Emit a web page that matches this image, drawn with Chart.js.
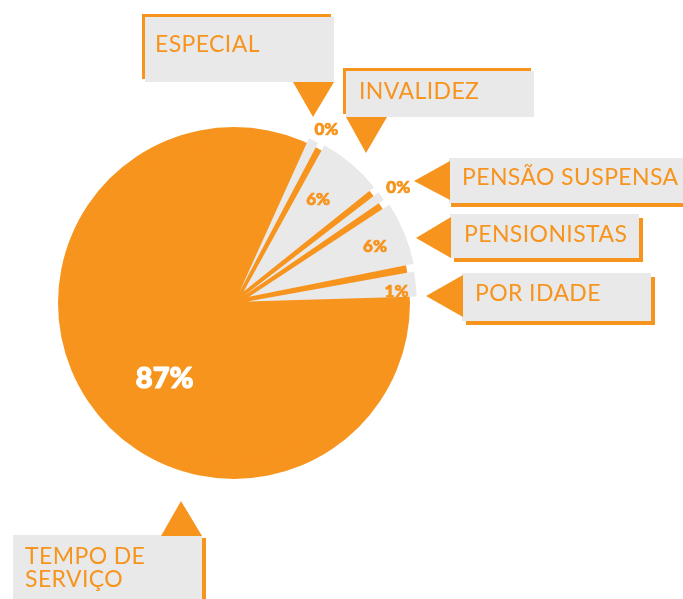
<!DOCTYPE html>
<html>
<head>
<meta charset="utf-8">
<script src="https://cdn.jsdelivr.net/npm/chart.js@4.4.1/dist/chart.umd.min.js"></script>
<style>
  html, body { margin: 0; padding: 0; background: #ffffff; }
  #wrap { position: relative; width: 683px; height: 599px; overflow: hidden; }
  canvas { display: block; }
</style>
</head>
<body>
<div id="wrap"><canvas id="c" width="683" height="599"></canvas></div>
<script>
// ---- data ----
const categories = ['ESPECIAL', 'INVALIDEZ', 'PENSÃO SUSPENSA', 'PENSIONISTAS', 'POR IDADE', 'TEMPO DE SERVIÇO'];
// visual share of each drawn slice (percent of the circle, as drawn)
const sliceShares = [1.3, 6.5, 1.2, 6.4, 2.7, 81.9];
// percentage texts printed on the chart
const percentLabels = ['0%', '6%', '0%', '6%', '1%', '87%'];
// callout box texts (lines)
const calloutTexts = [['ESPECIAL'], ['INVALIDEZ'], ['PENSÃO SUSPENSA'], ['PENSIONISTAS'], ['POR IDADE'], ['TEMPO DE', 'SERVIÇO']];

// ---- styles / layout ----
const ORANGE = '#F7941D';
const GRAY = '#E9E9E9';
const sliceColors = [GRAY, GRAY, GRAY, GRAY, GRAY, ORANGE];
const sliceOffsets = [48, 60, 50, 65, 54, 0];
const discExtra = 18;
// percent label placement: radial distance (px from centre) and angle tweak (deg)
const pctPlace = [
  { r: 197, da: 1.9, size: 17, color: ORANGE },
  { r: 134, da: -1.2, size: 17, color: ORANGE },
  { r: 201, da: 0.8, size: 17, color: ORANGE },
  { r: 152, da: 0.4, size: 17, color: ORANGE },
  { r: 163, da: 1.8, size: 17, color: ORANGE },
  { r: 102, da: -13.5, size: 29, color: '#FFFFFF' }
];
// callout layout
const callouts = [
  { box: [145, 17, 189, 65], sh: [-3, -3], tri: [[293, 82], [334, 82], [313, 117]], tx: 155, ty: [52] },
  { box: [346, 71, 188, 46], sh: [-3, -3], tri: [[346, 117], [387, 117], [366, 153]], tx: 359, ty: [99] },
  { box: [449, 158, 240, 45], sh: [2, 4], tri: [[450, 161], [450, 200], [414, 181]], tx: 462, ty: [185] },
  { box: [450, 214, 189, 44], sh: [4, 4], tri: [[451, 217], [451, 258], [416, 238]], tx: 464, ty: [242] },
  { box: [462, 273, 189, 48], sh: [4, 4], tri: [[463, 275], [463, 317], [426, 296]], tx: 475, ty: [301] },
  { box: [13, 535, 189, 80], sh: [4, 3], tri: [[161, 536], [202, 536], [181, 501]], tx: 25, ty: [564, 587] }
];

const discPlugin = {
  id: 'disc',
  beforeDatasetsDraw(chart) {
    const arc = chart.getDatasetMeta(0).data[0];
    if (!arc) return;
    const ctx = chart.ctx;
    ctx.save();
    ctx.fillStyle = ORANGE;
    ctx.beginPath();
    ctx.arc(arc.x, arc.y, arc.outerRadius + discExtra, 0, Math.PI * 2);
    ctx.fill();
    ctx.restore();
  }
};

const pctPlugin = {
  id: 'pct',
  afterDatasetsDraw(chart) {
    const ctx = chart.ctx;
    const arcs = chart.getDatasetMeta(0).data;
    ctx.save();
    arcs.forEach((arc, i) => {
      const p = pctPlace[i];
      const mid = (arc.startAngle + arc.endAngle) / 2 + p.da * Math.PI / 180;
      const x = arc.x + Math.cos(mid) * p.r;
      const y = arc.y + Math.sin(mid) * p.r;
      ctx.font = '900 ' + p.size + 'px Lato, "Open Sans", sans-serif';
      ctx.fillStyle = p.color;
      ctx.strokeStyle = p.color;
      ctx.lineWidth = p.size > 20 ? 1.2 : 0.7;
      ctx.lineJoin = 'round';
      ctx.textAlign = 'center';
      ctx.textBaseline = 'alphabetic';
      ctx.fillText(percentLabels[i], x, y + p.size * 0.36);
      ctx.strokeText(percentLabels[i], x, y + p.size * 0.36);
    });
    ctx.restore();
  }
};

const calloutPlugin = {
  id: 'callouts',
  afterDraw(chart) {
    const ctx = chart.ctx;
    ctx.save();
    callouts.forEach((c, i) => {
      const [x, y, w, h] = c.box;
      ctx.fillStyle = ORANGE;
      ctx.fillRect(x + c.sh[0], y + c.sh[1], w, h);
      ctx.fillStyle = GRAY;
      ctx.fillRect(x, y, w, h);
      ctx.fillStyle = ORANGE;
      ctx.beginPath();
      ctx.moveTo(c.tri[0][0], c.tri[0][1]);
      ctx.lineTo(c.tri[1][0], c.tri[1][1]);
      ctx.lineTo(c.tri[2][0], c.tri[2][1]);
      ctx.closePath();
      ctx.fill();
      ctx.font = '23px Lato, "Open Sans", sans-serif';
      if ('letterSpacing' in ctx) ctx.letterSpacing = '0.4px';
      ctx.textAlign = 'left';
      ctx.textBaseline = 'alphabetic';
      calloutTexts[i].forEach((line, k) => ctx.fillText(line, c.tx, c.ty[k]));
      if ('letterSpacing' in ctx) ctx.letterSpacing = '0px';
    });
    ctx.restore();
  }
};

new Chart(document.getElementById('c'), {
  type: 'pie',
  data: {
    labels: categories,
    datasets: [{
      data: sliceShares,
      backgroundColor: sliceColors,
      borderWidth: 0,
      offset: sliceOffsets
    }]
  },
  options: {
    responsive: false,
    animation: false,
    events: [],
    rotation: 23.75,
    radius: 158,
    layout: { padding: { left: 0, right: 215, top: 7, bottom: 0 } },
    plugins: { legend: { display: false }, tooltip: { enabled: false } }
  },
  plugins: [discPlugin, pctPlugin, calloutPlugin]
});
</script>
</body>
</html>
